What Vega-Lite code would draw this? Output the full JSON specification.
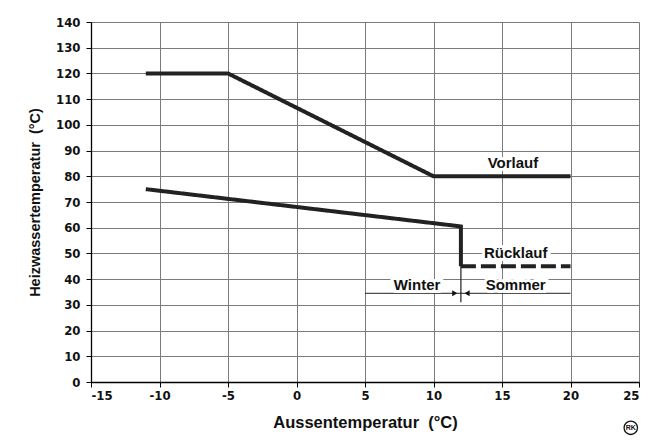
{
  "$schema": "https://vega.github.io/schema/vega-lite/v6.json",
  "width": 548,
  "height": 360,
  "autosize": "none",
  "padding": {"left": 91, "top": 22, "right": 15, "bottom": 61},
  "background": "white",
  "config": {
    "view": {"stroke": null},
    "axis": {
      "grid": true,
      "gridColor": "#7a7a7a",
      "gridWidth": 1,
      "domainColor": "#000",
      "domainWidth": 1.3,
      "tickColor": "#000",
      "tickSize": 5,
      "labelFont": "DejaVu Sans Condensed",
      "labelFontSize": 13,
      "labelFontWeight": "bold",
      "labelColor": "#111",
      "titleFont": "Liberation Sans",
      "titleFontSize": 16.5,
      "titleFontWeight": "bold",
      "titleColor": "#111"
    }
  },
  "datasets": {
    "curves": [
      {"x": -11, "y": 120, "series": "Vorlauf", "style": "solid", "o": 1},
      {"x": -5, "y": 120, "series": "Vorlauf", "style": "solid", "o": 2},
      {"x": 10, "y": 80, "series": "Vorlauf", "style": "solid", "o": 3},
      {"x": 20, "y": 80, "series": "Vorlauf", "style": "solid", "o": 4},
      {"x": -11, "y": 75, "series": "Rücklauf Winter", "style": "solid", "o": 1},
      {"x": 12, "y": 60.5, "series": "Rücklauf Winter", "style": "solid", "o": 2},
      {"x": 12, "y": 45, "series": "Rücklauf Winter", "style": "solid", "o": 3},
      {"x": 12, "y": 45, "series": "Rücklauf Sommer", "style": "dashed", "o": 1},
      {"x": 20, "y": 45, "series": "Rücklauf Sommer", "style": "dashed", "o": 2}
    ],
    "labels": [
      {"x": 15.8, "y": 85, "label": "Vorlauf"},
      {"x": 16, "y": 50, "label": "Rücklauf"},
      {"x": 8.8, "y": 37.8, "label": "Winter"},
      {"x": 16, "y": 37.8, "label": "Sommer"}
    ],
    "season": [
      {"x": 5, "x2": 12, "y": 34.5},
      {"x": 12, "x2": 20, "y": 34.5}
    ],
    "arrows": [
      {"x": 11.55, "y": 34.5, "shape": "triangle-right"},
      {"x": 12.45, "y": 34.5, "shape": "triangle-left"}
    ],
    "divider": [
      {"x": 12, "y": 31, "y2": 45}
    ],
    "logo": [
      {"x": 24.4, "y": -17.8, "label": "RK"}
    ]
  },
  "encoding": {
    "x": {
      "field": "x", "type": "quantitative",
      "scale": {"domain": [-15, 25], "nice": false, "zero": false},
      "axis": {
        "values": [-15, -10, -5, 0, 5, 10, 15, 20, 25],
        "labelExpr": "replace(datum.label, '−', '-')",
        "title": "Aussentemperatur\u00a0\u00a0(°C)",
        "labelPadding": 2,
        "titlePadding": 12
      }
    },
    "y": {
      "field": "y", "type": "quantitative",
      "scale": {"domain": [0, 140], "nice": false},
      "axis": {
        "values": [0, 10, 20, 30, 40, 50, 60, 70, 80, 90, 100, 110, 120, 130, 140],
        "title": "Heizwassertemperatur\u00a0\u00a0(°C)",
        "titleFontSize": 14.5,
        "labelPadding": 6,
        "titlePadding": 13
      }
    }
  },
  "layer": [
    {
      "data": {"name": "curves"},
      "mark": {"type": "line", "strokeWidth": 4, "color": "#222", "strokeCap": "butt", "strokeJoin": "miter"},
      "encoding": {
        "detail": {"field": "series"},
        "order": {"field": "o"},
        "strokeDash": {
          "field": "style", "type": "nominal",
          "scale": {"domain": ["solid", "dashed"], "range": [[1, 0], [15, 5]]},
          "legend": null
        }
      }
    },
    {
      "data": {"name": "season"},
      "mark": {"type": "rule", "strokeWidth": 1, "color": "#222"},
      "encoding": {
        "x2": {"field": "x2"}
      }
    },
    {
      "data": {"name": "divider"},
      "mark": {"type": "rule", "strokeWidth": 1.2, "color": "#222"},
      "encoding": {
        "y2": {"field": "y2"}
      }
    },
    {
      "data": {"name": "labels"},
      "mark": {"type": "text", "font": "Liberation Sans", "fontSize": 15, "fontWeight": "bold", "stroke": "white", "strokeWidth": 6, "color": "white"},
      "encoding": {
        "text": {"field": "label"}
      }
    },
    {
      "data": {"name": "labels"},
      "mark": {"type": "text", "font": "Liberation Sans", "fontSize": 15, "fontWeight": "bold", "color": "#111"},
      "encoding": {
        "text": {"field": "label"}
      }
    },
    {
      "data": {"name": "arrows"},
      "mark": {"type": "point", "filled": true, "size": 35, "color": "#111", "opacity": 1},
      "encoding": {
        "shape": {"field": "shape", "type": "nominal", "scale": null}
      }
    },
    {
      "data": {"name": "logo"},
      "mark": {"type": "point", "filled": false, "size": 180, "color": "#111", "strokeWidth": 1.3, "opacity": 1, "shape": "circle"},
      "encoding": {}
    },
    {
      "data": {"name": "logo"},
      "mark": {"type": "text", "font": "Liberation Sans", "fontSize": 7, "fontWeight": "bold", "color": "#111"},
      "encoding": {
        "text": {"field": "label"}
      }
    }
  ]
}
